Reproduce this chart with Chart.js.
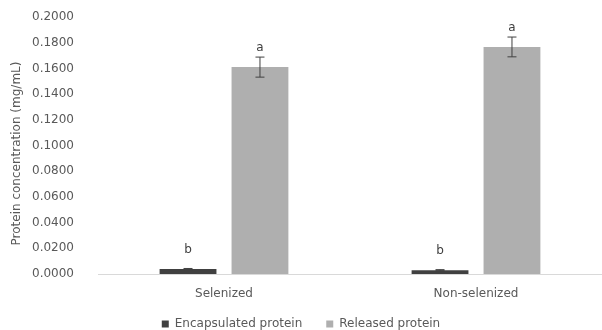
<!DOCTYPE html>
<html>
<head>
<meta charset="utf-8">
<script src="https://cdn.jsdelivr.net/npm/chart.js@4.4.1/dist/chart.umd.min.js"></script>
<style>
  html, body { margin: 0; padding: 0; background: #ffffff; }
  #wrap { width: 602px; height: 330px; position: relative; }
</style>
</head>
<body>
<div id="wrap"><canvas id="chart"></canvas></div>
<script>
// Sample groups and series
const categories = ['Selenized', 'Non-selenized'];
const encapsulated = [0.0038, 0.0030];
const released = [0.1610, 0.1767];
const encapsulatedErr = [0.0005, 0.0004];
const releasedErr = [0.0078, 0.0077];
const encapsulatedLetters = ['b', 'b'];
const releasedLetters = ['a', 'a'];
const yTicks = [0, 0.02, 0.04, 0.06, 0.08, 0.10, 0.12, 0.14, 0.16, 0.18, 0.20];
const yTitle = 'Protein concentration (mg/mL)';

const FONT = '"DejaVu Sans", sans-serif';
const TEXT = '#595959';

// Keep the legend band compact while leaving wide gaps between its items,
// and let the category labels run past the short x-axis band
const compactLayout = {
  id: 'compactLayout',
  beforeInit(chart) {
    const lg = chart.legend;
    const fit = lg.fit;
    lg.fit = function () {
      fit.call(this);
      this.height = 36;
    };
  },
  beforeDraw(chart) {
    chart.scales.x._computeLabelArea = function () { return undefined; };
  }
};

// Error bars and significance letters drawn from each dataset's values
const annotate = {
  id: 'annotate',
  afterDatasetsDraw(chart) {
    const ctx = chart.ctx;
    const y = chart.scales.y;
    chart.data.datasets.forEach((ds, di) => {
      const meta = chart.getDatasetMeta(di);
      meta.data.forEach((bar, i) => {
        const v = ds.data[i];
        const e = ds.errors[i];
        const x = bar.x;
        const yTop = y.getPixelForValue(v + e);
        const yBot = y.getPixelForValue(v - e);
        ctx.save();
        ctx.strokeStyle = '#404040';
        ctx.lineWidth = 1;
        ctx.beginPath();
        ctx.moveTo(x, yTop); ctx.lineTo(x, yBot);
        ctx.moveTo(x - 4.5, yTop); ctx.lineTo(x + 4.5, yTop);
        ctx.moveTo(x - 4.5, yBot); ctx.lineTo(x + 4.5, yBot);
        ctx.stroke();
        ctx.fillStyle = '#404040';
        ctx.font = '12px ' + FONT;
        ctx.textAlign = 'center';
        ctx.textBaseline = 'middle';
        ctx.fillText(ds.letters[i], x, y.getPixelForValue(v) - 19);
        ctx.restore();
      });
    });
    // vertical axis title
    const ca = chart.chartArea;
    ctx.save();
    ctx.translate(17, (ca.top + ca.bottom) / 2 + 8);
    ctx.rotate(-Math.PI / 2);
    ctx.fillStyle = TEXT;
    ctx.font = '12px ' + FONT;
    ctx.textAlign = 'center';
    ctx.textBaseline = 'middle';
    ctx.fillText(yTitle, 0, 0);
    ctx.restore();
  }
};

new Chart(document.getElementById('chart'), {
  type: 'bar',
  data: {
    labels: categories,
    datasets: [
      {
        label: 'Encapsulated protein',
        data: encapsulated,
        errors: encapsulatedErr,
        letters: encapsulatedLetters,
        backgroundColor: '#404040',
        categoryPercentage: 0.571,
        barPercentage: 0.79
      },
      {
        label: 'Released protein',
        data: released,
        errors: releasedErr,
        letters: releasedLetters,
        backgroundColor: '#afafaf',
        categoryPercentage: 0.571,
        barPercentage: 0.79
      }
    ]
  },
  options: {
    responsive: true,
    maintainAspectRatio: false,
    animation: false,
    layout: { padding: { top: 0, right: 0, bottom: 0, left: 0 } },
    plugins: {
      legend: {
        position: 'bottom',
        labels: {
          boxWidth: 7,
          boxHeight: 7,
          padding: 24,
          color: TEXT,
          font: { family: FONT, size: 12 }
        }
      },
      tooltip: { enabled: false }
    },
    scales: {
      x: {
        afterFit(scale) { scale.height = 20; },
        grid: { display: false },
        border: { display: true, color: '#d9d9d9', width: 1 },
        ticks: { color: TEXT, font: { family: FONT, size: 12 }, padding: 5 }
      },
      y: {
        min: 0,
        max: 0.2,
        afterBuildTicks(scale) { scale.ticks = yTicks.map(v => ({ value: v })); },
        afterFit(scale) {
          scale.width = 98;
          scale.paddingTop = 17;
        },
        grid: { display: false },
        border: { display: false },
        ticks: {
          color: TEXT,
          font: { family: FONT, size: 12 },
          padding: 16,
          callback: v => Number(v).toFixed(4)
        }
      }
    }
  },
  plugins: [compactLayout, annotate]
});
</script>
</body>
</html>
